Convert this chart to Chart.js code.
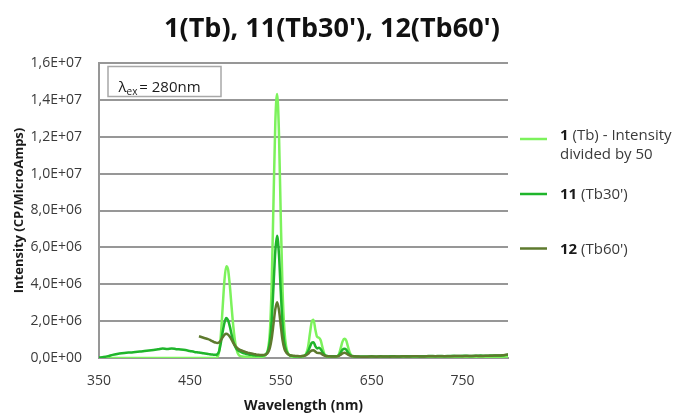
<!DOCTYPE html>
<html>
<head>
<meta charset="utf-8">
<title>1(Tb), 11(Tb30'), 12(Tb60')</title>
<script src="https://cdn.jsdelivr.net/npm/chart.js@4/dist/chart.umd.min.js"></script>
<style>
  html, body { margin: 0; padding: 0; background: #ffffff; }
  #wrap { width: 679px; height: 414px; }
</style>
</head>
<body>
<div id="wrap"><canvas id="chart" width="679" height="414"></canvas></div>
<script>
// Emission wavelengths (nm)
const wavelengths = [
  350, 355, 360, 365, 370, 375, 380, 385, 390, 395,
  400, 405, 410, 415, 420, 425, 430, 435, 440, 445,
  450, 455, 460, 465, 470,
  472, 474, 476, 478, 480, 482, 484, 486, 488, 490,
  492, 494, 496, 498, 500, 502, 504, 506, 508, 510,
  512, 514, 516, 518, 520, 522, 524, 526, 528, 530,
  532, 534, 536, 538, 540, 542, 544, 546, 548, 550,
  552, 554, 556, 558, 560, 562, 564, 566, 568, 570,
  572, 574, 576, 578, 580, 582, 584, 586, 588, 590,
  592, 594, 596, 598, 600, 602, 604, 606, 608, 610,
  612, 614, 616, 618, 620, 622, 624, 626, 628, 630,
  632, 634, 636, 638, 640,
  645, 650, 655, 660, 665, 670, 675, 680, 685, 690,
  695, 700, 705, 710, 715, 720, 725, 730, 735, 740,
  745, 750, 755, 760, 765, 770, 775, 780, 785, 790,
  795, 800
];

// Intensities in millions of CP/MicroAmps
// 1 (Tb), already divided by 50
const tb = [
  0, 0, 0, 0, 0, 0, 0, 0, 0, 0,
  0, 0, 0, 0, 0, 0, 0, 0, 0, 0,
  0, 0, 0, 0, 0,
  0, 0, 0, 0, 0.05, 0.3, 1.2, 2.7, 4.2, 4.98,
  4.8, 3.9, 2.7, 1.6, 0.8, 0.35, 0.15, 0.1, 0.08, 0.07,
  0.06, 0.06, 0.05, 0.05, 0.05, 0.05, 0.05, 0.05, 0.06, 0.07,
  0.1, 0.2, 0.5, 1.4, 4.0, 8.5, 12.8, 14.32, 12.2, 7.6,
  3.6, 1.5, 0.6, 0.25, 0.12, 0.08, 0.06, 0.05, 0.05, 0.05,
  0.06, 0.08, 0.12, 0.25, 0.6, 1.3, 1.95, 2.08, 1.55, 1.15,
  1.1, 0.95, 0.55, 0.22, 0.1, 0.06, 0.05, 0.05, 0.05, 0.06,
  0.08, 0.2, 0.55, 0.9, 1.04, 0.95, 0.6, 0.28, 0.12, 0.07,
  0.05, 0.05, 0.04, 0.04, 0.04,
  0.04, 0.04, 0.04, 0.04, 0.04, 0.04, 0.04, 0.04, 0.04, 0.04,
  0.04, 0.04, 0.04, 0.05, 0.04, 0.05, 0.05, 0.04, 0.05, 0.05,
  0.05, 0.05, 0.06, 0.05, 0.06, 0.06, 0.05, 0.06, 0.06, 0.06,
  0.07, 0.08
];

// 11 (Tb30')
const tb30 = [
  0.02, 0.05, 0.1, 0.17, 0.22, 0.26, 0.29, 0.3, 0.33, 0.35,
  0.38, 0.41, 0.44, 0.47, 0.51, 0.49, 0.52, 0.48, 0.46, 0.43,
  0.38, 0.33, 0.3, 0.26, 0.22,
  0.2, 0.19, 0.18, 0.18, 0.2, 0.35, 0.8, 1.4, 1.9, 2.17,
  2.05, 1.7, 1.25, 0.85, 0.6, 0.45, 0.38, 0.33, 0.28, 0.25,
  0.22, 0.2, 0.18, 0.17, 0.15, 0.14, 0.13, 0.13, 0.13, 0.14,
  0.16, 0.22, 0.4, 0.9, 2.0, 3.9, 5.8, 6.63, 5.6, 3.6,
  1.8, 0.8, 0.4, 0.22, 0.15, 0.12, 0.1, 0.1, 0.1, 0.1,
  0.1, 0.11, 0.13, 0.2, 0.35, 0.6, 0.82, 0.86, 0.65, 0.52,
  0.55, 0.48, 0.3, 0.17, 0.12, 0.1, 0.09, 0.09, 0.09, 0.09,
  0.1, 0.15, 0.3, 0.45, 0.5, 0.45, 0.3, 0.18, 0.12, 0.1,
  0.09, 0.08, 0.08, 0.08, 0.08,
  0.08, 0.09, 0.08, 0.09, 0.08, 0.09, 0.09, 0.08, 0.1, 0.09,
  0.1, 0.09, 0.1, 0.1, 0.11, 0.1, 0.11, 0.1, 0.11, 0.12,
  0.11, 0.12, 0.12, 0.11, 0.12, 0.13, 0.12, 0.13, 0.14, 0.13,
  0.15, 0.18
];

// 12 (Tb60'), recorded from 460 nm
const tb60 = [
  null, null, null, null, null, null, null, null, null, null,
  null, null, null, null, null, null, null, null, null, null,
  null, null, 1.18, 1.1, 1.02,
  0.98, 0.93, 0.88, 0.84, 0.81, 0.84, 0.95, 1.12, 1.26, 1.32,
  1.27, 1.15, 0.98, 0.8, 0.65, 0.55, 0.47, 0.42, 0.38, 0.35,
  0.31, 0.28, 0.26, 0.24, 0.22, 0.2, 0.18, 0.17, 0.16, 0.16,
  0.17, 0.2, 0.3, 0.55, 1.05, 1.85, 2.65, 3.02, 2.6, 1.75,
  0.95, 0.5, 0.3, 0.2, 0.15, 0.13, 0.12, 0.11, 0.11, 0.1,
  0.1, 0.11, 0.12, 0.15, 0.22, 0.33, 0.41, 0.42, 0.35, 0.28,
  0.27, 0.25, 0.18, 0.13, 0.1, 0.09, 0.09, 0.08, 0.08, 0.08,
  0.09, 0.11, 0.18, 0.25, 0.28, 0.25, 0.18, 0.13, 0.1, 0.09,
  0.08, 0.08, 0.08, 0.07, 0.07,
  0.07, 0.08, 0.07, 0.08, 0.08, 0.07, 0.08, 0.08, 0.09, 0.08,
  0.09, 0.09, 0.08, 0.09, 0.1, 0.09, 0.1, 0.1, 0.09, 0.1,
  0.11, 0.1, 0.11, 0.11, 0.12, 0.11, 0.12, 0.12, 0.13, 0.13,
  0.15, 0.2
];

const UNIT = 1e6;
const xTickValues = [350, 450, 550, 650, 750];
const yMin = 0, yMax = 1.6e7, yStep = 2e6;

const titleText = "1(Tb), 11(Tb30'), 12(Tb60')";
const xTitle = 'Wavelength (nm)';
const yTitle = 'Intensity (CP/MicroAmps)';
const seriesNumbers = ['1', '11', '12'];
const seriesNames = [["(Tb) - Intensity", "divided by 50"], ["(Tb30')"], ["(Tb60')"]];
const seriesColors = ['#7cf25c', '#1fb52b', '#5e7a2e'];
const excitation = { symbol: '\u03BB', sub: 'ex', text: ' = 280nm' };

const FONT = '"Open Sans", "Liberation Sans", sans-serif';
const gridColor = '#979797';
const labelColor = '#3a3a3a';

function toPoints(values) {
  const pts = [];
  values.forEach((v, i) => {
    if (v !== null) pts.push({ x: wavelengths[i], y: v * UNIT });
  });
  return pts;
}

function sciLabel(v) {
  if (v === 0) return '0,0E+00';
  const e = Math.floor(Math.log10(v) + 1e-9);
  const m = v / Math.pow(10, e);
  return m.toFixed(1).replace('.', ',') + 'E+' + String(e).padStart(2, '0');
}

// Title, excitation box and legend drawn straight onto the canvas
const decorations = {
  id: 'decorations',
  afterDraw(chart) {
    const ctx = chart.ctx;
    const area = chart.chartArea;
    ctx.save();

    // title
    ctx.fillStyle = '#111111';
    ctx.font = 'bold 27px ' + FONT;
    ctx.textAlign = 'center';
    ctx.textBaseline = 'alphabetic';
    ctx.fillText(titleText, 332, 37);

    // excitation wavelength box
    const bx = area.left + 9, by = area.top + 3.5;
    ctx.fillStyle = '#ffffff';
    ctx.fillRect(bx, by, 113, 30);
    ctx.strokeStyle = '#a8a8a8';
    ctx.lineWidth = 1.5;
    ctx.strokeRect(bx, by, 113, 30);
    ctx.fillStyle = '#1a1a1a';
    ctx.textAlign = 'left';
    let tx = bx + 10.5;
    const base = by + 25;
    ctx.font = '15px ' + FONT;
    ctx.fillText(excitation.symbol, tx, base);
    tx += ctx.measureText(excitation.symbol).width;
    ctx.font = '10px ' + FONT;
    ctx.fillText(excitation.sub, tx, base + 3);
    tx += ctx.measureText(excitation.sub).width - 2;
    ctx.font = '15px ' + FONT;
    ctx.fillText(excitation.text, tx, base);

    // legend
    const rows = [
      { lineY: 139, textY: [135.5, 155] },
      { lineY: 194, textY: [194.5] },
      { lineY: 248.5, textY: [249.5] }
    ];
    const lx0 = 520, lx1 = 547, textX = 560;
    ctx.textBaseline = 'middle';
    rows.forEach((row, i) => {
      ctx.strokeStyle = seriesColors[i];
      ctx.lineWidth = 2.5;
      ctx.beginPath();
      ctx.moveTo(lx0, row.lineY);
      ctx.lineTo(lx1, row.lineY);
      ctx.stroke();
      seriesNames[i].forEach((line, k) => {
        let x = textX;
        if (k === 0) {
          ctx.font = 'bold 15px ' + FONT;
          ctx.fillStyle = '#1a1a1a';
          ctx.fillText(seriesNumbers[i], x, row.textY[k]);
          x += ctx.measureText(seriesNumbers[i] + ' ').width;
        }
        ctx.font = '15px ' + FONT;
        ctx.fillStyle = labelColor;
        ctx.fillText(line, x, row.textY[k]);
      });
    });
    ctx.restore();
  }
};

new Chart(document.getElementById('chart'), {
  type: 'line',
  data: {
    datasets: [
      { label: '1 (Tb)', data: toPoints(tb), borderColor: seriesColors[0], order: 3 },
      { label: "11 (Tb30')", data: toPoints(tb30), borderColor: seriesColors[1], order: 2 },
      { label: "12 (Tb60')", data: toPoints(tb60), borderColor: seriesColors[2], order: 1 }
    ]
  },
  options: {
    responsive: false,
    devicePixelRatio: 1,
    animation: false,
    parsing: false,
    layout: { padding: { top: 63, right: 171, bottom: 0, left: 0 } },
    elements: {
      point: { radius: 0, hoverRadius: 0 },
      line: { borderWidth: 2.5, cubicInterpolationMode: 'monotone', fill: false }
    },
    plugins: {
      legend: { display: false },
      title: { display: false },
      tooltip: { enabled: false }
    },
    scales: {
      x: {
        type: 'linear',
        min: 350,
        max: 800,
        afterBuildTicks: (scale) => { scale.ticks = xTickValues.map(v => ({ value: v })); },
        afterFit: (scale) => { scale.height = 56; },
        grid: { display: false, drawTicks: false },
        border: { display: true, color: gridColor, width: 2 },
        ticks: {
          autoSkip: false, maxRotation: 0, padding: 15,
          color: labelColor, font: { family: FONT, size: 14 },
          callback: (v) => String(v)
        },
        title: {
          display: true, text: xTitle, color: '#1a1a1a',
          font: { family: FONT, size: 14, weight: 'bold' },
          padding: { top: 0, bottom: -0.5 }
        }
      },
      y: {
        min: yMin,
        max: yMax,
        afterFit: (scale) => { scale.width = 99; },
        grid: { color: gridColor, lineWidth: 2, drawTicks: false },
        border: { display: true, color: gridColor, width: 2 },
        ticks: {
          stepSize: yStep, padding: 17,
          color: labelColor, font: { family: FONT, size: 14 },
          callback: (v) => sciLabel(v)
        },
        title: {
          display: true, text: yTitle, color: '#1a1a1a',
          font: { family: FONT, size: 13, weight: 'bold' },
          padding: { top: 11, bottom: 0 }
        }
      }
    }
  },
  plugins: [decorations]
});
</script>
</body>
</html>
